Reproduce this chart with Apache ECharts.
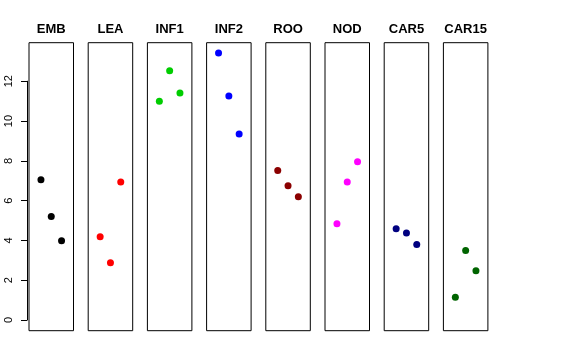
<!DOCTYPE html>
<html><head><meta charset="utf-8">
<script src="https://cdn.jsdelivr.net/npm/echarts@6/dist/echarts.min.js"></script>
<style>html,body{margin:0;padding:0;background:#fff}#c{width:576px;height:360px}</style>
</head><body><div id="c"></div>
<script>
const categories = ["EMB","LEA","INF1","INF2","ROO","NOD","CAR5","CAR15"];
const colors = ["#000000","#FF0000","#00CD00","#0000FF","#8B0000","#FF00FF","#000080","#006400"];
const xPos = [1,2,3];
const EMB = [7.05,5.20,3.99];
const LEA = [4.19,2.88,6.93];
const INF1 = [11.00,12.53,11.41];
const INF2 = [13.42,11.26,9.35];
const ROO = [7.52,6.75,6.20];
const NOD = [4.84,6.93,7.96];
const CAR5 = [4.59,4.37,3.79];
const CAR15 = [1.14,3.50,2.48];
const yTicks = [0,2,4,6,8,10,12];
const values = [EMB,LEA,INF1,INF2,ROO,NOD,CAR5,CAR15];

const panelLeft = 29, panelStep = 59.2, panelW = 44.5, panelTop = 42.7, panelH = 288;
const grids = [], xAxes = [], yAxes = [], series = [], texts = [];
categories.forEach((cat,i)=>{
  const l = panelLeft + panelStep*i;
  grids.push({left:l, top:panelTop, width:panelW, height:panelH, show:true, borderColor:'#000', borderWidth:1, containLabel:false});
  xAxes.push({type:'value', gridIndex:i, min:-0.16, max:4.16, show:false});
  yAxes.push({type:'value', gridIndex:i, min:-0.536, max:13.936, show:false});
  series.push({type:'scatter', xAxisIndex:i, yAxisIndex:i, symbolSize:7,
    itemStyle:{color:colors[i], opacity:1},
    data: xPos.map((x,j)=>[x, values[i][j]])});
  texts.push({type:'text', x:l+panelW/2, y:29, silent:true,
    style:{text:cat, textAlign:'center', textVerticalAlign:'middle', align:'center', verticalAlign:'middle',
      font:'bold 13px "Liberation Sans", Arial, sans-serif', fill:'#000'}});
});
// axis-only grid spanning 0..12
const y0 = panelTop + panelH*(13.936-0)/(13.936+0.536);
const y12 = panelTop + panelH*(13.936-12)/(13.936+0.536);
grids.push({left:27, top:y12, width:panelW, height:y0-y12, show:false});
xAxes.push({type:'value', gridIndex:8, min:0, max:1, show:false});
yAxes.push({type:'value', gridIndex:8, min:yTicks[0], max:yTicks[yTicks.length-1], interval:2,
  axisLine:{show:true, lineStyle:{color:'#000', width:1}},
  axisTick:{show:true, length:6, lineStyle:{color:'#000'}},
  splitLine:{show:false},
  axisLabel:{rotate:90, margin:13, fontSize:11, color:'#000', fontFamily:'Liberation Sans, Arial, sans-serif',
    formatter:v=>String(v)}});
const chart = echarts.init(document.getElementById('c'), null, {renderer:'canvas'});
chart.setOption({animation:false, backgroundColor:'#fff', graphic:texts, grid:grids, xAxis:xAxes, yAxis:yAxes, series:series});
</script></body></html>
